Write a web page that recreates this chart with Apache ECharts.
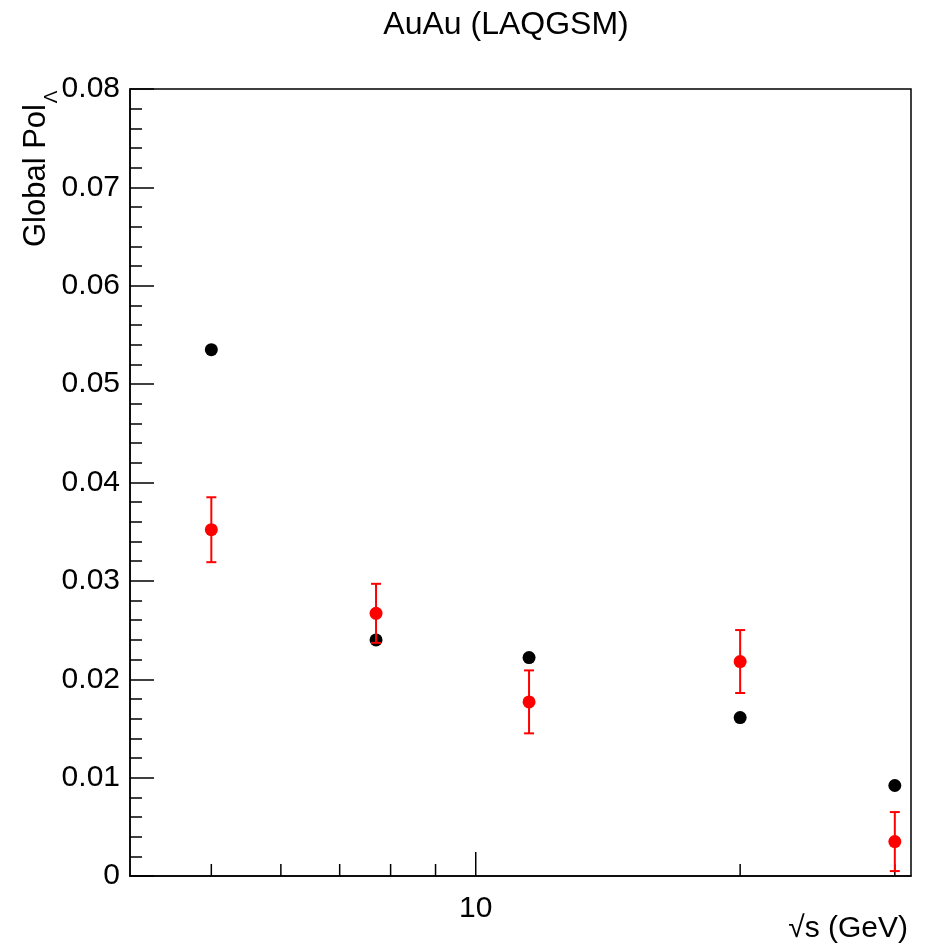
<!DOCTYPE html>
<html>
<head>
<meta charset="utf-8">
<script src="https://cdn.jsdelivr.net/npm/echarts@6/dist/echarts.min.js"></script>
<style>html,body{margin:0;padding:0;background:#fff}#c{width:927px;height:949px}</style>
</head>
<body>
<div id="c"></div>
<script>
// ---- data ----
var energies = [5, 7.7, 11.5, 20, 30];
var blackPol = [0.0535, 0.0240, 0.0222, 0.0161, 0.0092];
var redPol = [0.0352, 0.0267, 0.0177, 0.0218, 0.0035];
var redErr = [0.0033, 0.0030, 0.0032, 0.0032, 0.0030];
var xTickValues = [5, 6, 7, 8, 9, 10, 20, 30];
var xMajorTicks = [10];
var xLabelValues = [10];
var yTickMin = 0, yTickMax = 0.08, yTickStep = 0.01;

var FONT = '"Liberation Sans", Arial, Helvetica, sans-serif';
var chart = echarts.init(document.getElementById('c'), null, {renderer: 'canvas'});

var blackData = energies.map(function (e, i) { return [e, blackPol[i]]; });
var redData = energies.map(function (e, i) { return [e, redPol[i]]; });
var errData = energies.map(function (e, i) { return [e, redPol[i] - redErr[i], redPol[i] + redErr[i]]; });
var tickData = xTickValues.map(function (v) { return [v, xMajorTicks.indexOf(v) >= 0 ? 1 : 0]; });

var option = {
  animation: false,
  backgroundColor: '#fff',
  grid: {left: 130, right: 16, top: 89, bottom: 73, show: true, borderColor: '#000', borderWidth: 1.5, backgroundColor: 'transparent'},
  xAxis: {
    type: 'log', logBase: 10, min: 4.04, max: 31.3,
    axisLine: {show: true, lineStyle: {color: '#000', width: 1.5}},
    axisTick: {show: false},
    splitLine: {show: false},
    axisLabel: {
      show: true, showMinLabel: false, showMaxLabel: false, margin: 18,
      fontFamily: FONT, fontSize: 30, color: '#000',
      formatter: function (v) {
        for (var i = 0; i < xLabelValues.length; i++) if (Math.abs(v - xLabelValues[i]) < 1e-6) return String(xLabelValues[i]);
        return '';
      }
    }
  },
  yAxis: {
    type: 'value', min: yTickMin, max: yTickMax, interval: yTickStep,
    axisLine: {show: true, lineStyle: {color: '#000', width: 1.5}},
    axisTick: {show: true, inside: true, length: 24, lineStyle: {color: '#000', width: 1.5}},
    minorTick: {show: true, splitNumber: 5, length: 12, lineStyle: {color: '#000', width: 1.5}},
    splitLine: {show: false},
    axisLabel: {
      margin: 10, fontFamily: FONT, fontSize: 30, color: '#000',
      formatter: function (v) { return Math.abs(v) < 1e-9 ? '0' : v.toFixed(2); }
    }
  },
  graphic: [
    {type: 'text', x: 506, y: 25, style: {text: 'AuAu (LAQGSM)', font: '32px ' + FONT, fill: '#000', align: 'center', verticalAlign: 'middle'}},
    {type: 'text', x: 908, y: 929, style: {text: '\u221As (GeV)', font: '30px ' + FONT, fill: '#000', align: 'right', verticalAlign: 'middle'}},
    {type: 'text', x: 36, y: 104, rotation: Math.PI / 2, style: {text: 'Global Pol', font: '31px ' + FONT, fill: '#000', align: 'right', verticalAlign: 'middle'}},
    {type: 'text', x: 52, y: 97, rotation: Math.PI / 2, style: {text: '\u039B', font: '19px ' + FONT, fill: '#000', align: 'center', verticalAlign: 'middle'}}
  ],
  series: [
    {
      type: 'custom', silent: true, clip: false, z: 1,
      data: tickData,
      renderItem: function (params, api) {
        var p = api.coord([api.value(0), 0]);
        var len = api.value(1) ? 24 : 12;
        return {type: 'line', shape: {x1: p[0], y1: p[1], x2: p[0], y2: p[1] - len}, style: {stroke: '#000', lineWidth: 1.5}};
      }
    },
    {
      type: 'scatter', symbol: 'circle', symbolSize: 13, z: 3,
      itemStyle: {color: '#000', opacity: 1}, data: blackData
    },
    {
      type: 'custom', z: 4,
      data: errData,
      renderItem: function (params, api) {
        var lo = api.coord([api.value(0), api.value(1)]);
        var hi = api.coord([api.value(0), api.value(2)]);
        var w = 5;
        var st = {stroke: '#ff0000', lineWidth: 2};
        return {type: 'group', children: [
          {type: 'line', shape: {x1: lo[0], y1: lo[1], x2: hi[0], y2: hi[1]}, style: st},
          {type: 'line', shape: {x1: lo[0] - w, y1: lo[1], x2: lo[0] + w, y2: lo[1]}, style: st},
          {type: 'line', shape: {x1: hi[0] - w, y1: hi[1], x2: hi[0] + w, y2: hi[1]}, style: st}
        ]};
      }
    },
    {
      type: 'scatter', symbol: 'circle', symbolSize: 13, z: 5,
      itemStyle: {color: '#ff0000', opacity: 1}, data: redData
    }
  ]
};
chart.setOption(option);
</script>
</body>
</html>
